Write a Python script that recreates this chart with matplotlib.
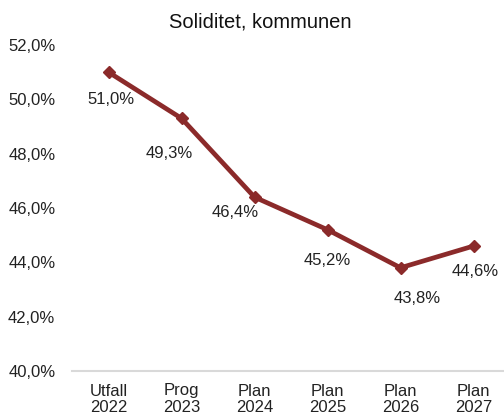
import matplotlib.pyplot as plt

plt.rcParams['font.family'] = ['Liberation Sans', 'DejaVu Sans']

categories = ['Utfall\n2022', 'Prog\n2023', 'Plan\n2024', 'Plan\n2025', 'Plan\n2026', 'Plan\n2027']
soliditet = [51.0, 49.3, 46.4, 45.2, 43.8, 44.6]
yticks = [40, 42, 44, 46, 48, 50, 52]

# label offsets in points (dx, dy), Excel style placement
offsets = [(2, -20), (-9, -25), (-14, -11), (0, -22), (12, -22), (1, -18)]

fig = plt.figure(figsize=(5.04, 4.16), dpi=100)
ax = fig.add_axes([72 / 504, 45 / 416, 438 / 504, 326 / 416])

x = list(range(len(categories)))
ax.plot(x, soliditet, color='#8B2A2A', linewidth=3.4, marker='D', markersize=6.5, zorder=3)

for xi, v, (dx, dy) in zip(x, soliditet, offsets):
    ax.annotate(f'{v:.1f}%'.replace('.', ','), (xi, v), xytext=(dx, dy),
                textcoords='offset points', ha='center', va='center',
                fontsize=12, color='#222222')

ax.set_xlim(-0.5, 5.5)
ax.set_ylim(40, 52)
ax.set_yticks(yticks)
ax.set_yticklabels([f'{t:.1f}%'.replace('.', ',') for t in yticks])
ax.set_xticks(x)
ax.set_xticklabels(categories, linespacing=1.1)

for side in ['top', 'right', 'left']:
    ax.spines[side].set_visible(False)
ax.spines['bottom'].set_color('#D9D9D9')
ax.spines['bottom'].set_linewidth(1.5)
ax.tick_params(axis='both', length=0, labelsize=12, colors='#222222')
ax.tick_params(axis='y', pad=12)
ax.tick_params(axis='x', pad=9)

fig.text(0.516, 0.947, 'Soliditet, kommunen', ha='center', va='center', fontsize=14.5, color='#111111')

fig.savefig('out.png', dpi=100)
